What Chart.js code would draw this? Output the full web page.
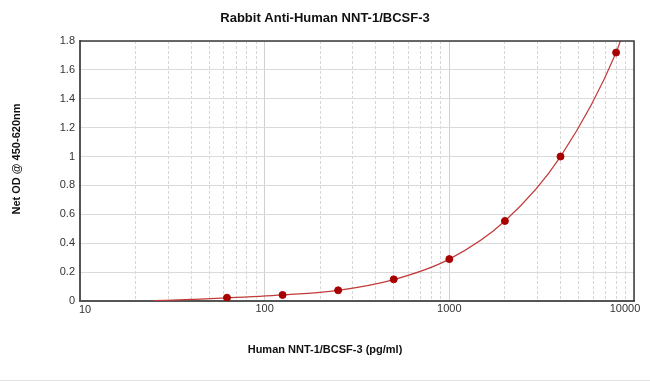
<!DOCTYPE html>
<html><head><meta charset="utf-8">
<script src="https://cdn.jsdelivr.net/npm/chart.js@4/dist/chart.umd.min.js"></script>
<style>html,body{margin:0;padding:0;background:#fff}#wrap{width:650px;height:383px;position:relative}</style>
</head><body><div id="wrap"><canvas id="c" width="650" height="383"></canvas></div>
<script>
const chartTitle = "Rabbit Anti-Human NNT-1/BCSF-3";
const xTitle = "Human NNT-1/BCSF-3 (pg/ml)";
const yTitle = "Net OD @ 450-620nm";
const concentrations = [62.5, 125, 250, 500, 1000, 2000, 4000, 8000];
const netOD = [0.023, 0.042, 0.074, 0.15, 0.29, 0.554, 1.0, 1.72];
const curveX = [25, 40, 62.5, 125, 250, 500, 1000, 2000, 4000, 8000, 9500];
const curveY = [0.002, 0.011, 0.021, 0.042, 0.074, 0.148, 0.29, 0.554, 1.0, 1.72, 2.0];
const yTicks = [0, 0.2, 0.4, 0.6, 0.8, 1, 1.2, 1.4, 1.6, 1.8];
const yTickLabels = ["0", "0.2", "0.4", "0.6", "0.8", "1", "1.2", "1.4", "1.6", "1.8"];
const xMajor = [10, 100, 1000, 10000];
const xMajorLabels = ["10", "100", "1000", "10000"];

const FONT = "'Liberation Sans', Arial, sans-serif";
const xLabelShift = [5, 0, 0, -9];
const xGridTicks = [];
for (let d = 0; d < 3; d++) for (let m = 1; m < 10; m++) xGridTicks.push(m * Math.pow(10, d + 1));
xGridTicks.push(10000);

const decor = {
  id: 'decor',
  afterDraw(chart) {
    const c = chart.ctx, a = chart.chartArea, xs = chart.scales.x;
    c.save();
    c.strokeStyle = '#3a3a3a'; c.lineWidth = 1.5;
    c.beginPath();
    c.moveTo(a.left, a.top); c.lineTo(a.right, a.top); c.lineTo(a.right, a.bottom);
    c.stroke();
    c.fillStyle = '#333';
    c.textAlign = 'center'; c.textBaseline = 'middle';
    c.font = "11px " + FONT;
    xMajor.forEach((v, i) => {
      c.fillText(xMajorLabels[i], xs.getPixelForValue(v) + xLabelShift[i], i === 0 ? 310 : 309);
    });
    c.fillStyle = '#111';
    c.font = "bold 13px " + FONT;
    c.fillText(chartTitle, 325, 18);
    c.font = "bold 11px " + FONT;
    c.fillText(xTitle, 325, 350);
    c.translate(17, 159); c.rotate(-Math.PI / 2);
    c.fillText(yTitle, 0, 0);
    c.restore();
    c.save();
    c.strokeStyle = '#e2e2e2'; c.lineWidth = 1;
    c.beginPath(); c.moveTo(0, 380.5); c.lineTo(650, 380.5); c.stroke();
    c.restore();
  }
};

new Chart(document.getElementById('c'), {
  type: 'scatter',
  data: {
    datasets: [
      {
        type: 'line', data: curveX.map((x, i) => ({x, y: curveY[i]})),
        borderColor: '#c23b3b', borderWidth: 1.2, pointRadius: 0, fill: false,
        cubicInterpolationMode: 'monotone', order: 2
      },
      {
        data: concentrations.map((x, i) => ({x, y: netOD[i]})),
        backgroundColor: '#a80000', borderColor: '#a80000', pointRadius: 3.5, order: 1
      }
    ]
  },
  options: {
    responsive: false, animation: false,
    layout: { padding: { top: 41, right: 16, left: 0, bottom: 0 } },
    plugins: { legend: { display: false }, tooltip: { enabled: false }, title: { display: false } },
    scales: {
      x: {
        type: 'logarithmic', min: 10, max: 10000,
        afterFit: s => { s.height = 82; },
        afterBuildTicks: s => { s.ticks = xGridTicks.map(v => ({value: v})); },
        ticks: {
          autoSkip: false, maxRotation: 0, padding: 3, color: 'rgba(0,0,0,0)',
          font: { family: FONT, size: 11 },
          callback: v => ''
        },
        grid: {
          drawTicks: false,
          color: ctx => xMajor.includes(ctx.tick && ctx.tick.value) ? '#d0d0d0' : '#d6d6d6'
        },
        border: { color: '#555', width: 2, dash: ctx => xMajor.includes(ctx.tick && ctx.tick.value) ? [] : [3, 2] }
      },
      y: {
        min: 0, max: 1.8,
        afterFit: s => { s.width = 80; },
        afterBuildTicks: s => { s.ticks = yTicks.map(v => ({value: v})); },
        ticks: {
          padding: 5, color: '#333', font: { family: FONT, size: 11 },
          callback: v => { const i = yTicks.findIndex(t => Math.abs(t - v) < 1e-9); return i >= 0 ? yTickLabels[i] : ''; }
        },
        grid: { drawTicks: false, color: '#dadada' },
        border: { color: '#555', width: 2 }
      }
    }
  },
  plugins: [decor]
});
</script></body></html>
